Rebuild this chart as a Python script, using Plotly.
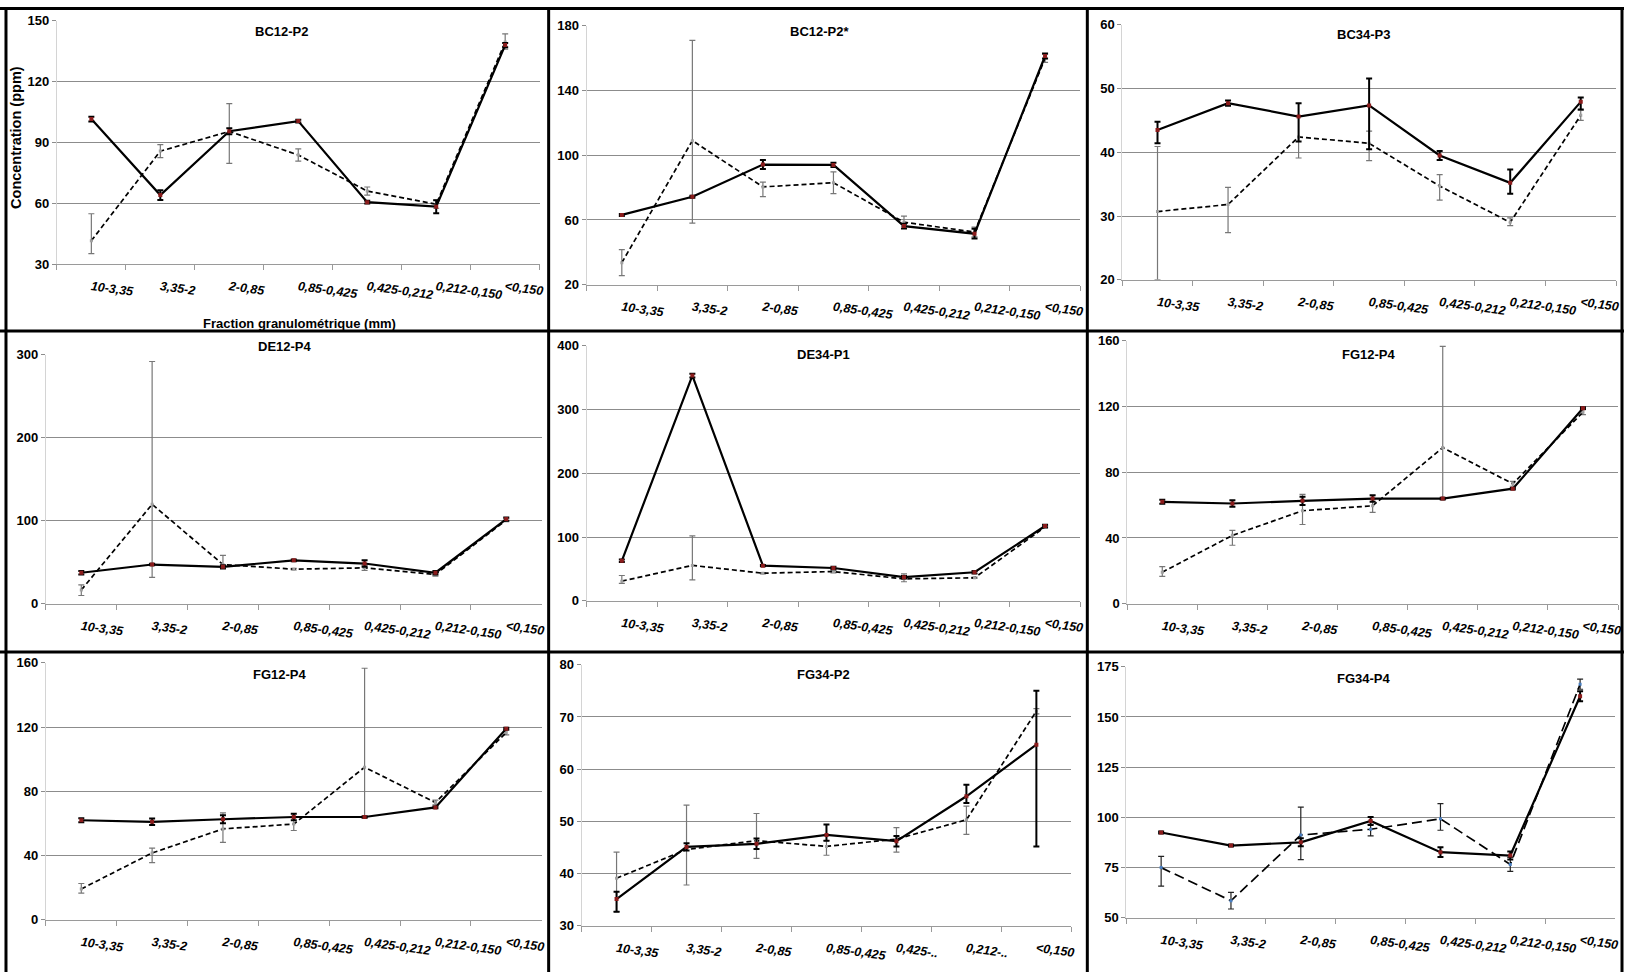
import plotly.graph_objects as go

W, H = 1628, 980

# Size fractions (mm)
FRACTIONS = ["10-3,35", "3,35-2", "2-0,85", "0,85-0,425", "0,425-0,212", "0,212-0,150", "<0,150"]
FRACTIONS_SHORT = ["10-3,35", "3,35-2", "2-0,85", "0,85-0,425", "0,425-..", "0,212-..", "<0,150"]

# BC12-P2
bc12_p2_solid = [101.5, 64, 95.5, 100.5, 60.5, 58.3, 138]
bc12_p2_solid_hi = [1.2, 2.4, 1.5, 0.7, 0.7, 3.2, 1]
bc12_p2_solid_lo = [1.2, 2.4, 1.5, 0.7, 0.7, 3.2, 1]
bc12_p2_dash = [41.5, 85.7, 95.4, 83.8, 66, 59.5, 139.5]
bc12_p2_dash_hi = [13.3, 3.2, 13.7, 3, 2, 2, 4]
bc12_p2_dash_lo = [6.4, 3.2, 15.7, 3, 2, 2, 3.5]

# BC12-P2*
bc12_p2s_solid = [63.1, 74.3, 94.2, 94, 56.2, 51.5, 161.3]
bc12_p2s_solid_hi = [0.6, 0.6, 2.8, 1.3, 1.5, 3, 1.5]
bc12_p2s_solid_lo = [0.6, 0.6, 2.8, 1.3, 1.5, 3, 1.5]
bc12_p2s_dash = [33.6, 109, 80.4, 83, 58.6, 52.5, 159.9]
bc12_p2s_dash_hi = [8, 62, 3, 6.7, 3.7, 3, 2.5]
bc12_p2s_dash_lo = [8, 51, 6, 6.7, 2.6, 3, 2.5]

# BC34-P3
bc34_p3_solid = [43.5, 47.7, 45.6, 47.35, 39.5, 35.2, 47.9]
bc34_p3_solid_hi = [1.3, 0.4, 2.1, 4.2, 0.7, 2.1, 0.7]
bc34_p3_solid_lo = [2.1, 0.4, 3.9, 6.9, 0.7, 1.7, 1.2]
bc34_p3_dash = [30.7, 31.8, 42.4, 41.4, 34.7, 29.0, 45.8]
bc34_p3_dash_hi = [10.2, 2.7, 3.3, 1.9, 1.8, 0.7, 0.8]
bc34_p3_dash_lo = [10.7, 4.4, 3.3, 2.7, 2.2, 0.5, 0.8]

# DE12-P4
de12_p4_solid = [37.3, 47.2, 44.4, 52.3, 48.4, 37.3, 101.9]
de12_p4_solid_hi = [2, 1, 2, 1, 4, 2, 2]
de12_p4_solid_lo = [2, 1, 2, 1, 4, 2, 2]
de12_p4_dash = [16.6, 119.7, 47.2, 41.6, 43.2, 35.3, 100.7]
de12_p4_dash_hi = [6, 172, 11, 1, 3, 2, 2]
de12_p4_dash_lo = [6.7, 88, 3, 1, 3, 2, 2]

# DE34-P1
de34_p1_solid = [62.7, 353.2, 55, 51.4, 37, 44.7, 117.2]
de34_p1_solid_hi = [2, 3, 1, 2, 2, 2, 2]
de34_p1_solid_lo = [2, 3, 1, 2, 2, 2, 2]
de34_p1_dash = [30.8, 55.5, 43.2, 45.8, 34.4, 36, 115.7]
de34_p1_dash_hi = [8.8, 46.3, 1, 2, 7.8, 1, 2]
de34_p1_dash_lo = [3.6, 22.6, 1, 2, 4.6, 1, 2]

# FG12-P4
fg12_p4_solid = [62, 61, 62.6, 64, 64, 70, 119]
fg12_p4_solid_hi = [1.2, 2, 2.5, 2, 0.5, 0.5, 0.5]
fg12_p4_solid_lo = [1.2, 2, 2.5, 2, 0.5, 0.5, 0.5]
fg12_p4_dash = [19.2, 41.6, 56.6, 59.6, 95, 73, 116.6]
fg12_p4_dash_hi = [3.4, 3, 10, 4, 61.6, 1.5, 1.5]
fg12_p4_dash_lo = [2.6, 6, 8.4, 4, 31.4, 1.5, 1.5]

# FG34-P2
fg34_p2_solid = [35.1, 45.1, 45.7, 47.4, 46.2, 54.8, 64.7]
fg34_p2_solid_hi = [1.4, 0.7, 1, 2, 1, 2.2, 10.3]
fg34_p2_solid_lo = [2.4, 0.7, 1, 1.1, 1, 1.3, 19.5]
fg34_p2_dash = [39.1, 44.6, 46.3, 45.2, 46.6, 50.3, 71.1]
fg34_p2_dash_hi = [5, 8.5, 5.2, 1.1, 2.2, 2.6, 0.5]
fg34_p2_dash_lo = [6.4, 6.8, 3.4, 1.7, 2.5, 2.8, 0.5]

# FG34-P4
fg34_p4_solid = [92.5, 86, 87.6, 98.2, 82.7, 81, 160.3]
fg34_p4_solid_hi = [0.5, 0.5, 2, 2, 2.4, 2, 2.5]
fg34_p4_solid_lo = [0.5, 0.5, 2, 2, 2.4, 2, 2.5]
fg34_p4_dash = [75, 58.5, 91.2, 94.1, 99.3, 76.6, 166.3]
fg34_p4_dash_hi = [5.6, 4.2, 13.9, 2.5, 7.6, 3.5, 2.5]
fg34_p4_dash_lo = [9.2, 4.1, 12.2, 3.3, 5.7, 3.5, 2.5]

# Panel layout: (title, categories, solid, dash, y range, dtick,
#                x px span, y px span (top, bottom), title px pos, dash pattern)
panels = [
    ("BC12-P2", FRACTIONS,
     (bc12_p2_solid, bc12_p2_solid_hi, bc12_p2_solid_lo),
     (bc12_p2_dash, bc12_p2_dash_hi, bc12_p2_dash_lo),
     (30, 150), 30, (57, 541), (14, 261), (282, 25), "5px,3px"),
    ("BC12-P2*", FRACTIONS,
     (bc12_p2s_solid, bc12_p2s_solid_hi, bc12_p2s_solid_lo),
     (bc12_p2s_dash, bc12_p2s_dash_hi, bc12_p2s_dash_lo),
     (20, 180), 40, (588, 1083), (19, 282), (822, 25), "5px,3px"),
    ("BC34-P3", FRACTIONS,
     (bc34_p3_solid, bc34_p3_solid_hi, bc34_p3_solid_lo),
     (bc34_p3_dash, bc34_p3_dash_hi, bc34_p3_dash_lo),
     (20, 60), 10, (1125, 1620), (18, 277), (1367, 28), "5px,3px"),
    ("DE12-P4", FRACTIONS,
     (de12_p4_solid, de12_p4_solid_hi, de12_p4_solid_lo),
     (de12_p4_dash, de12_p4_dash_hi, de12_p4_dash_lo),
     (0, 300), 100, (46, 543), (353, 606), (286, 345), "5px,3px"),
    ("DE34-P1", FRACTIONS,
     (de34_p1_solid, de34_p1_solid_hi, de34_p1_solid_lo),
     (de34_p1_dash, de34_p1_dash_hi, de34_p1_dash_lo),
     (0, 400), 100, (588, 1083), (344, 603), (826, 353), "5px,3px"),
    ("FG12-P4", FRACTIONS,
     (fg12_p4_solid, fg12_p4_solid_hi, fg12_p4_solid_lo),
     (fg12_p4_dash, fg12_p4_dash_hi, fg12_p4_dash_lo),
     (0, 160), 40, (1130, 1622), (339, 606), (1372, 353), "5px,3px"),
    ("FG12-P4", FRACTIONS,
     (fg12_p4_solid, fg12_p4_solid_hi, fg12_p4_solid_lo),
     (fg12_p4_dash, fg12_p4_dash_hi, fg12_p4_dash_lo),
     (0, 160), 40, (46, 543), (666, 927), (281, 678), "5px,3px"),
    ("FG34-P2", FRACTIONS_SHORT,
     (fg34_p2_solid, fg34_p2_solid_hi, fg34_p2_solid_lo),
     (fg34_p2_dash, fg34_p2_dash_hi, fg34_p2_dash_lo),
     (30, 80), 10, (583, 1074), (668, 933), (826, 678), "5px,3px"),
    ("FG34-P4", FRACTIONS,
     (fg34_p4_solid, fg34_p4_solid_hi, fg34_p4_solid_lo),
     (fg34_p4_dash, fg34_p4_dash_hi, fg34_p4_dash_lo),
     (50, 175), 25, (1129, 1619), (670, 925), (1367, 682), "10px,5px"),
]

FONT = "Liberation Sans, Arial, sans-serif"
GRID = "#8c8c8c"


def px_x(v):
    return v / W


def px_y(v):
    return 1 - v / H


fig = go.Figure()
layout = dict(
    width=W, height=H, autosize=False,
    margin=dict(l=0, r=0, t=0, b=0),
    paper_bgcolor="white", plot_bgcolor="white",
    showlegend=False,
    font=dict(family=FONT, color="black"),
)
annotations = []

for i, (title, cats, solid, dash, yr, dt, xs, ys, tpos, dpat) in enumerate(panels):
    n = "" if i == 0 else str(i + 1)
    xa, ya = "x" + n, "y" + n
    dash_err_color = "#222222" if title == "FG34-P4" else "#777777"
    dash_marker = "#4a7fc1" if title == "FG34-P4" else "#a0a0a0"

    fig.add_trace(go.Scatter(
        x=cats, y=dash[0], xaxis=xa, yaxis=ya, mode="lines+markers",
        line=dict(color="black", width=1.7, dash=dpat),
        marker=dict(symbol="square", size=3, color=dash_marker),
        error_y=dict(type="data", symmetric=False, array=dash[1], arrayminus=dash[2],
                     color=dash_err_color, thickness=1.2, width=3),
        cliponaxis=True,
    ))
    fig.add_trace(go.Scatter(
        x=cats, y=solid[0], xaxis=xa, yaxis=ya, mode="lines+markers",
        line=dict(color="black", width=2.2),
        marker=dict(symbol="square", size=4, color="#8b1c1c"),
        error_y=dict(type="data", symmetric=False, array=solid[1], arrayminus=solid[2],
                     color="black", thickness=2, width=3),
        cliponaxis=True,
    ))

    layout["xaxis" + n] = dict(
        domain=[px_x(xs[0]), px_x(xs[1])], anchor=ya,
        type="category", categoryorder="array", categoryarray=cats,
        range=[-0.5, 6.5], tickson="boundaries",
        ticks="outside", ticklen=5, tickcolor="#9a9a9a",
        showline=True, linecolor="#9a9a9a", linewidth=1,
        showgrid=False, zeroline=False,
        tickangle=8, ticklabelstandoff=10,
        tickfont=dict(family=FONT, size=12.5, weight="bold", style="italic", color="black"),
        fixedrange=True,
    )
    layout["yaxis" + n] = dict(
        domain=[px_y(ys[1]), px_y(ys[0])], anchor=xa,
        range=list(yr), tick0=yr[0], dtick=dt,
        showgrid=True, gridcolor=GRID, gridwidth=1,
        showline=True, linecolor="#d4d4d4", linewidth=1,
        ticks="outside", ticklen=4, tickcolor=GRID,
        zeroline=False,
        tickfont=dict(family=FONT, size=13, weight="bold", color="black"),
        fixedrange=True,
    )
    annotations.append(dict(
        text=title, x=px_x(tpos[0]), y=px_y(tpos[1]), xref="paper", yref="paper",
        xanchor="center", yanchor="middle", showarrow=False,
        font=dict(family=FONT, size=13, weight="bold", color="black"),
    ))

# Axis titles of the first panel
annotations.append(dict(
    text="Concentration (ppm)", x=px_x(16), y=px_y(132), xref="paper", yref="paper",
    textangle=-90, xanchor="center", yanchor="middle", showarrow=False,
    font=dict(family=FONT, size=14.5, weight="bold", color="black"),
))
annotations.append(dict(
    text="Fraction granulométrique (mm)", x=px_x(300), y=px_y(321), xref="paper", yref="paper",
    xanchor="center", yanchor="middle", showarrow=False,
    font=dict(family=FONT, size=13, weight="bold", color="black"),
))

# Panel frames
shapes = []
frame = dict(type="line", xref="paper", yref="paper", line=dict(color="black", width=3))
for yy in (1.5, 329, 655):
    shapes.append(dict(frame, x0=0, x1=1, y0=px_y(yy), y1=px_y(yy)))
for xx in (6, 550, 1090, 1626):
    shapes.append(dict(frame, x0=px_x(xx), x1=px_x(xx), y0=0, y1=1))

layout["annotations"] = annotations
layout["shapes"] = shapes
fig.update_layout(**layout)

fig.write_html("out.html")
